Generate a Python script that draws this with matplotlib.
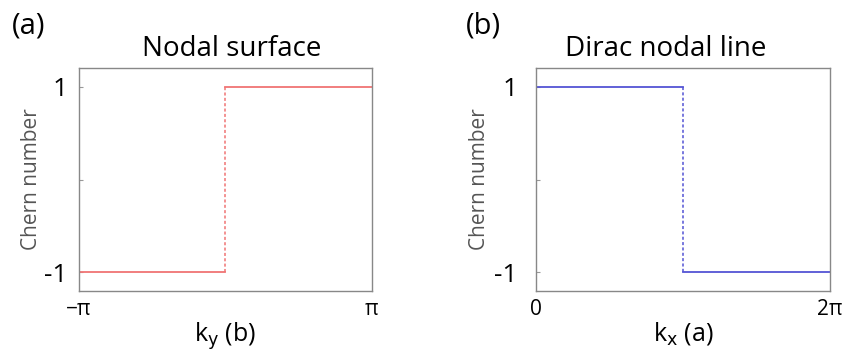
import numpy as np
import matplotlib.pyplot as plt

plt.rcParams['font.family'] = ['Open Sans', 'DejaVu Sans']

# panel (a): nodal surface, Chern number vs k_y
ky_steps = [-np.pi, 0.0, np.pi]
chern_a = [-1, 1]
# panel (b): Dirac nodal line, Chern number vs k_x
kx_steps = [0.0, np.pi, 2 * np.pi]
chern_b = [1, -1]

titles = ["Nodal surface", "Dirac nodal line"]
panel_tags = ["(a)", "(b)"]
xlabels = [r"k$_\mathrm{y}$ (b)", r"k$_\mathrm{x}$ (a)"]
xticklabels = [["\u2212\u03c0", "\u03c0"], ["0", "2\u03c0"]]
colors = ["#f07474", "#5454d4"]

fig = plt.figure(figsize=(8.45, 3.51), dpi=100)
W, H = 845, 351
boxes = [(79, 68, 372, 291), (536, 68, 830, 291)]
tag_pos = [(12, 26), (466, 26)]
title_x = [0.52, 0.44]
ylab_x = [-0.125, -0.155]
ytick_pad = [8, 13]

for i in range(2):
    x0, y0, x1, y1 = boxes[i]
    ax = fig.add_axes([x0 / W, 1 - y1 / H, (x1 - x0) / W, (y1 - y0) / H])
    xs = ky_steps if i == 0 else kx_steps
    cs = chern_a if i == 0 else chern_b
    c = colors[i]
    ax.plot([xs[0], xs[1]], [cs[0], cs[0]], color=c, lw=1.3)
    ax.plot([xs[1], xs[2]], [cs[1], cs[1]], color=c, lw=1.3)
    ax.plot([xs[1], xs[1]], [cs[0], cs[1]], color=c, lw=1.1, ls=(0, (2, 1.5)))
    ax.set_xlim(xs[0], xs[2])
    ax.set_ylim(-1.2, 1.2)
    ax.set_xticks([xs[0], xs[2]])
    ax.set_xticklabels(xticklabels[i], fontsize=15)
    ax.set_yticks([-1, 0, 1])
    ax.set_yticklabels(["-1", "", "1"], fontsize=19)
    ax.tick_params(axis='y', direction='in', length=3, color='#999999', pad=ytick_pad[i])
    ax.tick_params(axis='x', length=0, pad=6)
    for s in ax.spines.values():
        s.set_color('#888888')
        s.set_linewidth(1.0)
    ax.set_ylabel("Chern number", fontsize=15, color='#555555')
    ax.yaxis.set_label_coords(ylab_x[i], 0.5)
    ax.set_xlabel(xlabels[i], fontsize=18, labelpad=0)
    ax.set_title(titles[i], fontsize=20, pad=9, x=title_x[i])
    fig.text(tag_pos[i][0] / W, 1 - tag_pos[i][1] / H, panel_tags[i],
             fontsize=21, va='center', ha='left')

fig.savefig("out.png", dpi=100)
